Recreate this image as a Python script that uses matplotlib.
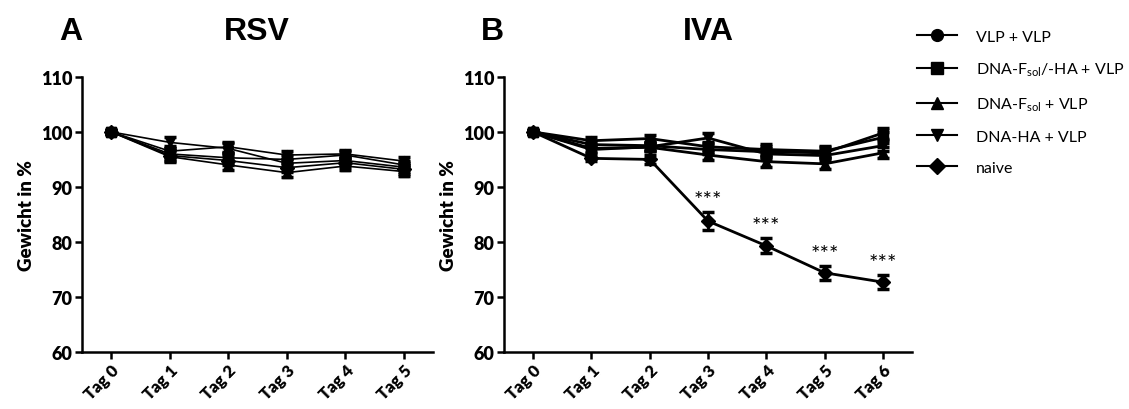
import matplotlib.pyplot as plt
from matplotlib.lines import Line2D

plt.rcParams['font.family'] = ['Lato', 'DejaVu Sans']
plt.rcParams['mathtext.fontset'] = 'custom'
plt.rcParams['mathtext.rm'] = 'Lato'

# Groups and markers
groups = ['VLP + VLP', r'DNA-F$_\mathregular{sol}$/-HA + VLP', r'DNA-F$_\mathregular{sol}$ + VLP',
          'DNA-HA + VLP', 'naive']
markers = ['o', 's', '^', 'v', 'D']

# RSV challenge, Tag 0 - Tag 5 (mean weight in %)
rsv_days = ['Tag 0', 'Tag 1', 'Tag 2', 'Tag 3', 'Tag 4', 'Tag 5']
rsv_vlp = [100, 96.5, 97.3, 95.8, 96.0, 94.7]
rsv_fha = [100, 96.0, 95.3, 95.0, 95.8, 94.0]
rsv_f = [100, 95.5, 94.0, 92.6, 93.8, 92.8]
rsv_ha = [100, 98.1, 97.0, 94.3, 94.8, 93.6]
rsv_naive = [100, 95.7, 94.8, 93.5, 94.4, 93.2]
rsv_sem = [0.3, 1.0, 0.9, 0.8, 0.8, 0.8]

# IVA challenge, Tag 0 - Tag 6
iva_days = ['Tag 0', 'Tag 1', 'Tag 2', 'Tag 3', 'Tag 4', 'Tag 5', 'Tag 6']
iva_vlp = [100, 98.4, 98.8, 97.3, 96.8, 96.5, 99.0]
iva_fha = [100, 97.7, 97.5, 96.8, 96.4, 96.2, 99.8]
iva_f = [100, 97.0, 97.2, 95.8, 94.6, 94.2, 96.2]
iva_ha = [100, 96.8, 97.3, 98.9, 96.0, 95.7, 97.5]
iva_naive = [100, 95.2, 95.0, 83.8, 79.3, 74.4, 72.7]
iva_sem = [0.3, 0.6, 0.7, 0.9, 1.0, 1.0, 1.0]
naive_sem = [0.3, 0.5, 0.8, 1.6, 1.35, 1.3, 1.3]
sig_days = [3, 4, 5, 6]

fig = plt.figure(figsize=(11.29, 4.10), dpi=100)
axA = fig.add_axes([0.0726, 0.139, 0.311, 0.671])
axB = fig.add_axes([0.4464, 0.139, 0.3614, 0.671])


def draw(ax, days, series, errs, lw):
    x = range(len(days))
    for vals, m, e in zip(series, markers, errs):
        ax.errorbar(x, vals, yerr=e, color='black', marker=m, markersize=7,
                    lw=lw, elinewidth=2, capsize=4, capthick=2.5)
    ax.set_xlim(-0.5, len(days) - 0.5)
    ax.set_ylim(60, 110)
    ax.set_yticks([60, 70, 80, 90, 100, 110])
    ax.set_xticks(list(x))
    ax.set_xticklabels(days, rotation=45, ha='right', rotation_mode='anchor',
                       fontweight='heavy', fontsize=12)
    for lab in ax.get_yticklabels():
        lab.set_fontweight('heavy')
        lab.set_fontsize(13)
    for s in ['top', 'right']:
        ax.spines[s].set_visible(False)
    for s in ['left', 'bottom']:
        ax.spines[s].set_linewidth(1.8)
    ax.tick_params(direction='out', length=5, width=1.8, pad=2)
    ax.set_ylabel('Gewicht in %', fontweight='heavy', fontsize=13.5, labelpad=4)


draw(axA, rsv_days, [rsv_vlp, rsv_fha, rsv_f, rsv_ha, rsv_naive],
     [rsv_sem] * 5, 1.2)
draw(axB, iva_days, [iva_vlp, iva_fha, iva_f, iva_ha, iva_naive],
     [iva_sem] * 4 + [naive_sem], 2.0)

# significance marks for the naive group
for d in sig_days:
    axB.text(d, iva_naive[d] + naive_sem[d] + 2.2, '***', ha='center', va='center',
             fontsize=16)

# panel letters and titles
fig.text(0.0625, 0.923, 'A', family='Liberation Sans', fontweight='bold', fontsize=23,
         ha='center', va='center')
fig.text(0.2276, 0.923, 'RSV', family='Liberation Sans', fontweight='bold', fontsize=23,
         ha='center', va='center')
fig.text(0.4358, 0.923, 'B', family='Liberation Sans', fontweight='bold', fontsize=23,
         ha='center', va='center')
fig.text(0.6271, 0.923, 'IVA', family='Liberation Sans', fontweight='bold', fontsize=23,
         ha='center', va='center')

handles = [Line2D([], [], color='black', marker=m, markersize=8.5, lw=1.5) for m in markers]
fig.legend(handles, groups, loc='upper left', bbox_to_anchor=(0.812, 0.925),
           frameon=False, fontsize=11.5, handlelength=2.5, handletextpad=1.2,
           labelspacing=1.05, borderpad=0, borderaxespad=0)

fig.savefig('out.png', dpi=100)
